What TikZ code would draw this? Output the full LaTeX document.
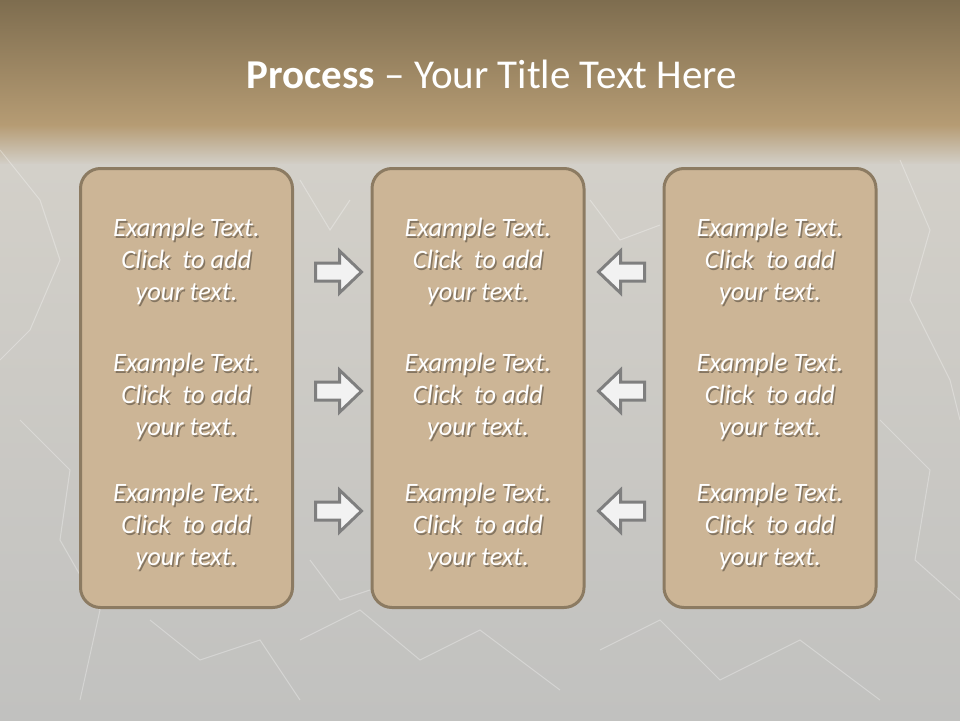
\documentclass[tikz,border=0pt]{standalone}
\usepackage{fontspec}
\setmainfont{Carlito}
\usetikzlibrary{calc}
\definecolor{bandtop}{HTML}{7E6D4F}
\definecolor{bandlow}{HTML}{B69C74}
\definecolor{haze}{HTML}{D3D0C9}
\definecolor{marble}{HTML}{CACAC8}
\definecolor{marblelow}{HTML}{C1C1BF}
\definecolor{boxfill}{HTML}{CCB596}
\definecolor{boxline}{HTML}{8C7B62}
\definecolor{arrfill}{HTML}{F2F2F2}
\definecolor{arrline}{HTML}{7F7F7F}
\tikzset{
  stagebox/.style={draw=boxline, line width=3pt, fill=boxfill, rounded corners=20pt,
    minimum width=212pt, minimum height=439pt, inner sep=0pt},
  bodytext/.style={align=center, text=white, inner sep=0pt,
    font=\fontsize{26.5}{32}\selectfont\itshape},
  shadowtext/.style={bodytext, text=black, opacity=0.35},
  blockarrow/.style={draw=arrline, line width=3pt, fill=arrfill, line join=miter},
  crack/.style={draw=white, opacity=0.3, line width=1pt}
}
\newcommand{\exampletext}{Example Text.\\Click\ \ to add\\your text.}
\begin{document}
\begin{tikzpicture}[x=1pt,y=-1pt]
\useasboundingbox (0,0) rectangle (960,720);
% background
\shade[top color=bandtop, bottom color=bandlow] (0,0) rectangle (960,126);
\shade[top color=bandlow, bottom color=haze] (0,125) rectangle (960,165);
\shade[top color=haze, middle color=marble, bottom color=marblelow] (0,164) rectangle (960,720);
% faint cracks
\draw[crack] (0,150) -- (40,200) -- (60,260) -- (30,330) -- (0,360);
\draw[crack] (20,420) -- (70,470) -- (60,540) -- (100,610) -- (80,700);
\draw[crack] (300,640) -- (360,610) -- (420,660) -- (480,630) -- (560,690);
\draw[crack] (600,650) -- (660,620) -- (720,680) -- (800,640) -- (880,700);
\draw[crack] (900,160) -- (930,230) -- (910,300) -- (950,380) -- (960,420);
\draw[crack] (880,420) -- (930,470) -- (915,560) -- (960,600);
\draw[crack] (300,180) -- (330,230) -- (350,200);
\draw[crack] (590,200) -- (620,240) -- (660,225);
\draw[crack] (310,560) -- (340,600) -- (370,590);
\draw[crack] (150,620) -- (200,660) -- (260,640) -- (300,700);
% title
\node[anchor=base, text=white, inner sep=0pt, font=\fontsize{41}{50}\selectfont] (title) at (492,88)
  {\textbf{Process} – Your Title Text Here};
% boxes
\node[stagebox] (left) at (186.5,388) {};
\node[stagebox] (mid) at (478,388) {};
\node[stagebox] (right) at (770,388) {};
% texts with drop shadow
\foreach \b/\bx in {left/186.5, mid/478, right/770}{
  \foreach \r/\ry in {1/261, 2/396, 3/526}{
    \node[shadowtext] at (\bx+1.5,\ry+2) {\exampletext};
    \node[bodytext] (\b t\r) at (\bx,\ry) {\exampletext};
  }
}
% arrows between boxes
\foreach \r/\ry in {1/272, 2/391, 3/511}{
  \coordinate (ra\r) at (338.5,\ry);
  \coordinate (la\r) at (621.5,\ry);
  \draw[blockarrow] ($(ra\r)+(-23,-9)$) -- ($(ra\r)+(1,-9)$) -- ($(ra\r)+(1,-21)$)
     -- ($(ra\r)+(23,0)$) -- ($(ra\r)+(1,21)$) -- ($(ra\r)+(1,9)$) -- ($(ra\r)+(-23,9)$) -- cycle;
  \draw[blockarrow] ($(la\r)+(23,-9)$) -- ($(la\r)+(-1,-9)$) -- ($(la\r)+(-1,-21)$)
     -- ($(la\r)+(-23,0)$) -- ($(la\r)+(-1,21)$) -- ($(la\r)+(-1,9)$) -- ($(la\r)+(23,9)$) -- cycle;
}
\end{tikzpicture}
\end{document}
